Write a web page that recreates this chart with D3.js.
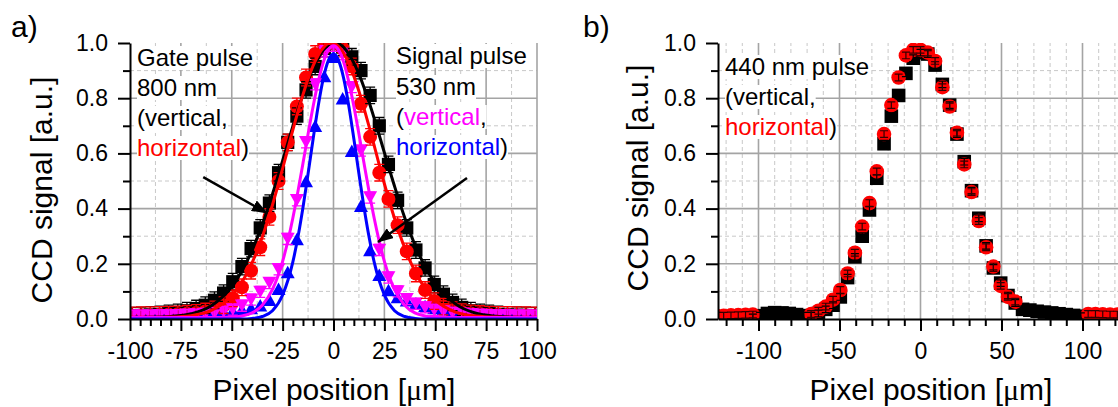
<!DOCTYPE html>
<html><head><meta charset="utf-8">
<script src="https://cdn.jsdelivr.net/npm/d3@7"></script>
<style>body{margin:0;background:#fff}svg{display:block;font-family:"Liberation Sans",Arial,sans-serif}</style>
</head><body><svg id="c" width="1118" height="407"></svg>
<script>
// ---------------- DATA ----------------
// Panel a: pixel positions of the measured points (µm)
const xA = [-99,-94.5,-90,-85.5,-81,-76.5,-72,-67.5,-63,-58.5,-54,-49.5,-45,-40.5,-36,-31.5,-27,-22.5,-18,-13.5,-9,-4.5,0,4.5,9,13.5,18,22.5,27,31.5,36,40.5,45,49.5,54,58.5,63,67.5,72,76.5,81,85.5,90,94.5,99];
// Gate pulse 800 nm, vertical (black squares)
const gateVertA = [.012,.013,.015,.017,.02,.024,.03,.038,.05,.068,.094,.135,.19,.255,.33,.42,.53,.64,.735,.83,.915,.98,1.0,.985,.95,.90,.81,.70,.56,.43,.33,.25,.185,.125,.09,.06,.042,.03,.024,.02,.017,.015,.014,.013,.012];
// Gate pulse 800 nm, horizontal (red circles)
const gateHorA = [.013,.014,.014,.015,.016,.017,.019,.022,.027,.035,.05,.075,.115,.175,.26,.37,.50,.64,.77,.875,.96,.995,1.0,.98,.915,.78,.66,.53,.435,.34,.245,.165,.105,.065,.045,.032,.025,.02,.018,.016,.015,.015,.014,.014,.013];
// Signal pulse 530 nm, vertical (magenta down triangles)
const sigVertA = [.012,.012,.012,.013,.013,.014,.015,.016,.018,.021,.026,.034,.048,.07,.098,.13,.18,.29,.43,.64,.85,.97,.99,.96,.84,.61,.44,.25,.15,.10,.072,.055,.042,.033,.027,.022,.019,.017,.015,.014,.013,.013,.012,.012,.012];
// Signal pulse 530 nm, horizontal (blue up triangles)
const sigHorA = [.02,.02,.021,.021,.022,.022,.023,.024,.025,.026,.028,.03,.034,.04,.05,.07,.11,.17,.29,.50,.70,.88,.95,.80,.61,.41,.25,.16,.105,.08,.068,.057,.047,.04,.035,.031,.028,.026,.025,.024,.023,.022,.021,.02,.02];
// error bar half-heights
const errGateVertA = 0.03, errGateHorA = 0.03, errSigVertA = 0.02;

// Gaussian fit curves, sampled
const fitX = [-100,-90,-80,-70,-60,-50,-45,-40,-35,-30,-25,-20,-17.5,-15,-12.5,-10,-7.5,-5,-2.5,0,2.5,5,7.5,10,12.5,15,17.5,20,25,30,35,40,45,50,60,70,80,90,100];
const fitGateVertA = [.005,.006,.009,.019,.048,.117,.174,.249,.342,.452,.574,.698,.757,.813,.864,.909,.946,.974,.992,1.0,.997,.984,.960,.928,.887,.839,.785,.727,.603,.481,.367,.269,.190,.129,.054,.021,.010,.006,.005];
const fitGateHorA = [.006,.006,.007,.012,.031,.084,.133,.204,.297,.413,.545,.684,.751,.813,.870,.918,.956,.983,.998,.999,.987,.963,.926,.880,.825,.763,.697,.628,.490,.364,.257,.173,.111,.069,.025,.011,.007,.006,.006];
const fitSigVertA = [.005,.005,.005,.005,.005,.007,.011,.022,.050,.107,.209,.365,.461,.564,.670,.771,.860,.930,.975,.990,.975,.930,.860,.771,.670,.564,.461,.365,.209,.107,.050,.022,.011,.007,.005,.005,.005,.005,.005];
const fitSigHorA = [0,0,0,0,0,0,0,.002,.009,.030,.087,.206,.296,.404,.526,.653,.773,.872,.937,.960,.937,.872,.773,.653,.526,.404,.296,.206,.087,.030,.009,.002,0,0,0,0,0,0,0];

// Panel b: 440 nm pulse
const xB = [-126,-121.5,-117,-112.5,-108,-103.5,-99,-94.5,-90,-85.5,-81,-76.5,-72,-67.5,-63,-58.5,-54,-49.5,-45,-40.5,-36,-31.5,-27,-22.5,-18,-13.5,-9,-4.5,0,4.5,9,13.5,18,22.5,27,31.5,36,40.5,45,49.5,54,58.5,63,67.5,72,76.5,81,85.5,90,94.5,99,103.5,108,112.5,117,121.5,126];
const vertB = [null,null,null,null,null,.006,.012,.02,.023,.022,.02,.016,.012,.012,.02,.035,.05,.08,.15,.225,.30,.395,.51,.635,.735,.81,.89,.945,.965,.96,.92,.85,.775,.67,.57,.465,.365,.265,.185,.13,.085,.058,.035,.032,.028,.025,.022,.019,.016,.013,.01,null,null,null,null,null,null];
const horB = [.012,.012,.013,.014,.015,.016,null,null,null,null,null,null,null,.018,.03,.045,.07,.105,.165,.24,.335,.42,.535,.67,.775,.875,.955,.975,.975,.965,.935,.84,.77,.675,.56,.46,.355,.26,.19,.12,.08,.063,null,null,null,null,null,null,null,null,null,.018,.018,.017,.016,.016,.015];
const errB = 0.012;

// ticks
const yTicks = [0,0.2,0.4,0.6,0.8,1.0];
const yMinor = [0.1,0.3,0.5,0.7,0.9];
const xTicksA = [-100,-75,-50,-25,0,25,50,75,100];
const xTicksB = [-100,-50,0,50,100];

// annotations
const gateLabel = [["Gate pulse"],["800 nm"],["(vertical,"],[["horizontal","#ff0000"],")"]];
const signalLabel = [["Signal pulse"],["530 nm"],["(",["vertical","#ff00ff"],","],[["horizontal","#0000ff"],")"]];
const blueLabel = [["440 nm pulse"],["(vertical,"],[["horizontal","#ff0000"],")"]];

// ---------------- DRAW ----------------
const W = 1118, H = 407, TOP = 43, BOT = 319;
const FONT = "Liberation Sans, Arial, sans-serif";
const svg = d3.select("#c");
svg.append("rect").attr("width", W).attr("height", H).attr("fill", "#fff");
const defs = svg.append("defs");
defs.append("marker").attr("id","arrow").attr("markerUnits","userSpaceOnUse")
  .attr("viewBox","0 0 16 12").attr("refX",15).attr("refY",6)
  .attr("markerWidth",16).attr("markerHeight",12).attr("orient","auto")
  .append("path").attr("d","M0,0L16,6L0,12Z").attr("fill","#000");

function makePanel(id, xDomain, xRange, gridMajorX, gridMinorX, xTicks, xMinor) {
  const x = d3.scaleLinear().domain(xDomain).range(xRange);
  const y = d3.scaleLinear().domain([0, 1]).range([BOT, TOP]);
  defs.append("clipPath").attr("id", "clip" + id).append("rect")
    .attr("x", xRange[0]).attr("y", TOP).attr("width", xRange[1] - xRange[0]).attr("height", BOT - TOP);
  const g = svg.append("g");
  const grid = g.append("g");
  grid.selectAll("line.vmin").data(gridMinorX).join("line").attr("class","vmin")
    .attr("x1", d => x(d)).attr("x2", d => x(d)).attr("y1", y(0)).attr("y2", y(1))
    .attr("stroke", "#c8c8c8").attr("stroke-width", 1).attr("stroke-dasharray", "4,3");
  grid.selectAll("line.hmin").data(yMinor).join("line").attr("class","hmin")
    .attr("x1", xRange[0]).attr("x2", xRange[1]).attr("y1", d => y(d)).attr("y2", d => y(d))
    .attr("stroke", "#c8c8c8").attr("stroke-width", 1).attr("stroke-dasharray", "4,3");
  grid.selectAll("line.vmaj").data(gridMajorX).join("line").attr("class","vmaj")
    .attr("x1", d => x(d)).attr("x2", d => x(d)).attr("y1", y(0)).attr("y2", y(1))
    .attr("stroke", "#a4a4a4").attr("stroke-width", 1.6);
  grid.selectAll("line.hmaj").data(yTicks.filter(v => v > 0 && v < 1)).join("line").attr("class","hmaj")
    .attr("x1", xRange[0]).attr("x2", xRange[1]).attr("y1", d => y(d)).attr("y2", d => y(d))
    .attr("stroke", "#a4a4a4").attr("stroke-width", 1.6);
  const plot = g.append("g").attr("clip-path", `url(#clip${id})`);
  const over = g.append("g");
  const drawAxes = () => {
    const ax = g.append("g").attr("font-family", FONT);
    const styleAx = s => { s.attr("font-family", FONT).attr("font-size", 23);
      s.selectAll("line,path").attr("stroke", "#000").attr("stroke-width", 2);
      s.selectAll("text").attr("fill", "#000"); };
    ax.append("g").attr("transform", `translate(0,${BOT})`)
      .call(d3.axisBottom(x).tickValues(xMinor).tickSize(7).tickSizeOuter(0).tickFormat(""))
      .call(s => s.select(".domain").remove()).call(styleAx);
    ax.append("g").attr("transform", `translate(${xRange[0]},0)`)
      .call(d3.axisLeft(y).tickValues(yMinor).tickSize(7).tickSizeOuter(0).tickFormat(""))
      .call(s => s.select(".domain").remove()).call(styleAx);
    ax.append("g").attr("transform", `translate(0,${BOT})`)
      .call(d3.axisBottom(x).tickValues(xTicks).tickSize(12).tickSizeOuter(0).tickPadding(12).tickFormat(d => String(d)))
      .call(styleAx);
    ax.append("g").attr("transform", `translate(${xRange[0]},0)`)
      .call(d3.axisLeft(y).tickValues(yTicks).tickSize(12).tickSizeOuter(0).tickPadding(10).tickFormat(d3.format(".1f")))
      .call(styleAx);
  };
  return { x, y, g, plot, over, drawAxes };
}

const pts = (xs, ys) => xs.map((v, i) => ({ x: v, y: ys[i] })).filter(d => d.y !== null);

function squares(P, data, color, s) {
  P.plot.append("g").selectAll("path").data(data).join("path")
    .attr("d", d => `M${P.x(d.x) - s},${P.y(d.y) - s}h${2 * s}v${2 * s}h${-2 * s}Z`).attr("fill", color);
}
function circles(P, data, color, r) {
  P.plot.append("g").selectAll("circle").data(data).join("circle")
    .attr("cx", d => P.x(d.x)).attr("cy", d => P.y(d.y)).attr("r", r).attr("fill", color);
}
function triangles(P, data, color, w, h, up) {
  P.plot.append("g").selectAll("path").data(data).join("path")
    .attr("d", d => { const cx = P.x(d.x), cy = P.y(d.y), s = up ? 1 : -1;
      return `M${cx},${cy - s * h / 2}L${cx + w / 2},${cy + s * h / 2}L${cx - w / 2},${cy + s * h / 2}Z`; })
    .attr("fill", color);
}
function errorBars(P, data, e, color, cap, sw) {
  P.plot.append("g").selectAll("path").data(data).join("path")
    .attr("d", d => { const cx = P.x(d.x), y1 = P.y(d.y - e), y2 = P.y(d.y + e);
      return `M${cx},${y1}V${y2}M${cx - cap / 2},${y1}h${cap}M${cx - cap / 2},${y2}h${cap}`; })
    .attr("stroke", color).attr("stroke-width", sw).attr("fill", "none");
}
function fitLine(P, ys, color) {
  const line = d3.line().x((d, i) => P.x(fitX[i])).y(d => P.y(d)).curve(d3.curveMonotoneX);
  P.plot.append("path").datum(ys).attr("d", line).attr("fill", "none")
    .attr("stroke", color).attr("stroke-width", 3);
}
function textBlock(P, x0, baselines, lines, size) {
  lines.forEach((parts, i) => {
    const t = P.over.append("text").attr("x", x0).attr("y", baselines[i]).attr("font-size", size).attr("font-family", FONT);
    parts.forEach(pt => { const [s, c] = Array.isArray(pt) ? pt : [pt, "#000"];
      t.append("tspan").attr("fill", c).text(s); });
    const bb = t.node().getBBox();
    P.over.insert("rect", () => t.node()).attr("x", bb.x).attr("y", bb.y + 2)
      .attr("width", bb.width).attr("height", bb.height - 3).attr("fill", "#fff");
  });
}
function arrow(P, x1, y1, x2, y2) {
  P.over.append("line").attr("x1", P.x(x1)).attr("y1", P.y(y1)).attr("x2", P.x(x2)).attr("y2", P.y(y2))
    .attr("stroke", "#000").attr("stroke-width", 2.5).attr("marker-end", "url(#arrow)");
}
function titles(cx, yCx, yCy) {
  const xt = svg.append("text").attr("x", cx).attr("y", 400).attr("text-anchor", "middle")
    .attr("font-size", 30).attr("font-family", FONT).attr("fill", "#000");
  xt.append("tspan").text("Pixel position [");
  xt.append("tspan").attr("font-family", "Liberation Serif, serif").text("\u03bc");
  xt.append("tspan").text("m]");
  svg.append("text").attr("transform", `translate(${yCx},${yCy}) rotate(-90)`).attr("text-anchor", "middle")
    .attr("font-size", 30).attr("font-family", FONT).attr("fill", "#000").text("CCD signal [a.u.]");
}

// ----- Panel a -----
const gridMinorA = [-87.5,-62.5,-37.5,-12.5,12.5,37.5,62.5,87.5];
const xMinorA = d3.range(-95, 100, 5).filter(v => v % 25 !== 0);
const A = makePanel("a", [-100, 100], [130, 537], [-75,-50,-25,0,25,50,75,100], gridMinorA, xTicksA, xMinorA);
squares(A, pts(xA, gateVertA), "#000", 6.6);
circles(A, pts(xA, gateHorA), "#ff0000", 7);
triangles(A, pts(xA, sigHorA), "#0000ff", 14, 12.5, true);
triangles(A, pts(xA, sigVertA), "#ff00ff", 14, 12.5, false);
errorBars(A, pts(xA, gateVertA), errGateVertA, "#000", 10, 1.3);
errorBars(A, pts(xA, gateHorA), errGateHorA, "#ff0000", 10, 1.3);
errorBars(A, pts(xA, sigVertA), errSigVertA, "#ff00ff", 10, 1.3);
fitLine(A, fitGateVertA, "#000");
fitLine(A, fitGateHorA, "#ff0000");
fitLine(A, fitSigVertA, "#ff00ff");
fitLine(A, fitSigHorA, "#0000ff");
textBlock(A, 137, [66, 96, 126, 156], gateLabel, 24);
textBlock(A, 396, [64, 95, 125, 155], signalLabel, 24);
arrow(A, -64, 0.514, -32.7, 0.384);
arrow(A, 65.6, 0.511, 21.9, 0.279);
A.drawAxes();
titles(334, 52, 190);
svg.append("text").attr("x", 11).attr("y", 37).attr("font-size", 30).attr("font-family", FONT).text("a)");

// ----- Panel b -----
const xMinorB = [-120,-110,-90,-80,-70,-60,-40,-30,-20,-10,10,20,30,40,60,70,80,90,110,120];
const B = makePanel("b", [-125, 125], [718, 1123], [-100,-50,0,50,100], xMinorB, xTicksB, xMinorB);
squares(B, pts(xB, vertB), "#000", 6.8);
circles(B, pts(xB, horB), "#ff0000", 7.3);
errorBars(B, pts(xB, vertB), errB, "#000", 8, 1.2);
errorBars(B, pts(xB, horB), errB, "#300", 8, 1.2);
textBlock(B, 725, [75, 105, 135], blueLabel, 24);
B.drawAxes();
titles(931, 648, 178);
svg.append("text").attr("x", 583).attr("y", 37).attr("font-size", 30).attr("font-family", FONT).text("b)");
</script></body></html>
